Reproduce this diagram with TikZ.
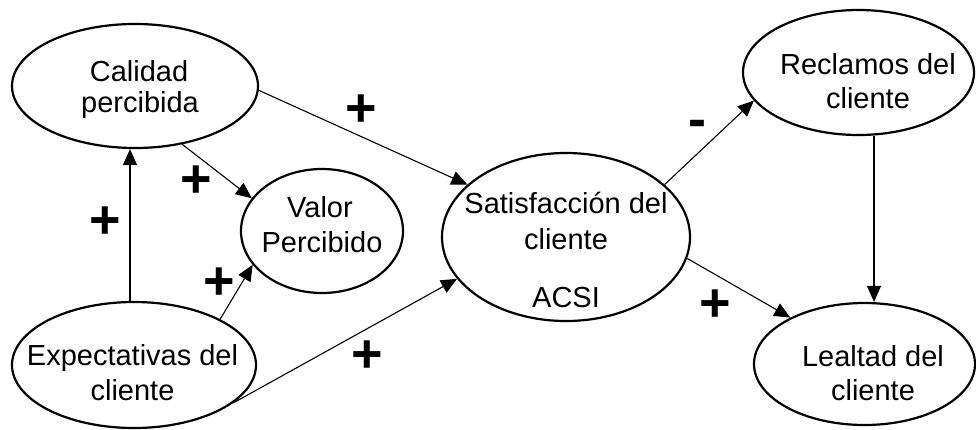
\documentclass[tikz,border=0pt]{standalone}
\usepackage{fontspec}
\setmainfont{Liberation Sans}
\usetikzlibrary{shapes.geometric,arrows.meta}
\begin{document}
\begin{tikzpicture}[x=1pt,y=-1pt,
  ell/.style={draw, line width=2.2pt, ellipse, inner sep=0pt},
  lbl/.style={anchor=base, inner sep=0pt, font=\fontsize{29}{35}\selectfont},
  sign/.style={inner sep=0pt, font=\fontsize{54}{54}\selectfont\bfseries},
  arr/.style={line width=1.1pt, -{Triangle[length=16pt,width=14pt]}}
]
\useasboundingbox (0,0) rectangle (976,429);

% ellipses
\node[ell, minimum width=246pt, minimum height=124pt] (cal) at (135,86) {};
\node[ell, minimum width=162pt, minimum height=124pt] (val) at (322,231) {};
\node[ell, minimum width=244pt, minimum height=126pt] (exp) at (134,365) {};
\node[ell, minimum width=248pt, minimum height=168pt] (sat) at (566,237) {};
\node[ell, minimum width=231pt, minimum height=125pt] (rec) at (858.5,72.5) {};
\node[ell, minimum width=221pt, minimum height=122pt] (lea) at (864.5,364) {};

% texts
\node[lbl] (cal1) at (139,81) {Calidad};
\node[lbl] (cal2) at (140,112) {percibida};
\node[lbl] (val1) at (320,217) {Valor};
\node[lbl] (val2) at (322,252) {Percibido};
\node[lbl] (exp1) at (132.5,365) {Expectativas del};
\node[lbl] (exp2) at (132.5,400) {cliente};
\node[lbl] (sat1) at (566,213) {Satisfacción del};
\node[lbl] (sat2) at (566,249) {cliente};
\node[lbl] (sat3) at (566,307) {ACSI};
\node[lbl] (rec1) at (868,74) {Reclamos del};
\node[lbl] (rec2) at (868,108) {cliente};
\node[lbl] (lea1) at (873,366) {Lealtad del};
\node[lbl] (lea2) at (873,400) {cliente};

% connectors
\draw[arr] (cal.-2) -- (sat.152);
\draw[arr] (cal.-51) -- (val.155);
\draw[arr] ([xshift=-4pt]exp.north) -- ([xshift=-5pt]cal.south);
\draw[arr] (exp.28) -- (val.206);
\draw[arr] (exp.-21) -- (sat.201);
\draw[arr] (sat.28) -- (rec.195);
\draw[arr] (sat.-10) -- (lea.148);
\draw[arr] ([xshift=15.5pt]rec.south) -- ([xshift=9.5pt]lea.north);

% signs
\node[sign] (s1) at (361,111) {+};
\node[sign] (s2) at (196,182) {+};
\node[sign] (s3) at (105,223) {+};
\node[sign] (s4) at (219,284) {+};
\node[sign] (s5) at (367,357) {+};
\node[sign] (s6) at (715,306) {+};
\node[sign] (s7) at (697,129) {-};
\end{tikzpicture}
\end{document}
